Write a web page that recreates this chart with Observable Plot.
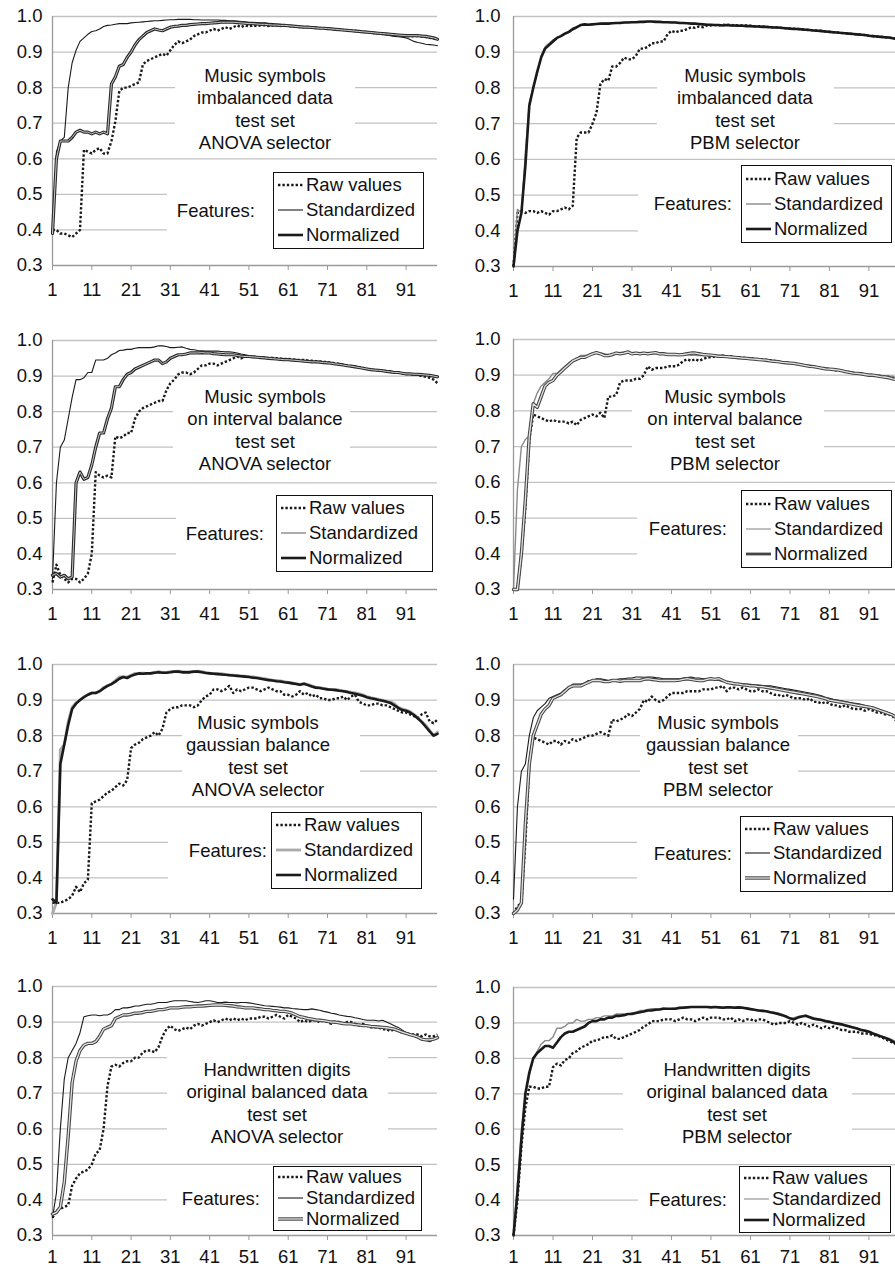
<!DOCTYPE html>
<html><head><meta charset="utf-8">
<script src="https://cdn.jsdelivr.net/npm/d3@7"></script>
<script src="https://cdn.jsdelivr.net/npm/@observablehq/plot@0.6"></script>
<style>
html,body{margin:0;padding:0;background:#fff;overflow:hidden;}
#root{position:relative;width:895px;height:1268px;overflow:hidden;font-family:"Liberation Sans",Arial,Helvetica,sans-serif;color:#111;}
.wbox{position:absolute;background:#fff;}
.note{position:absolute;text-align:center;font-size:18.5px;line-height:22.4px;white-space:nowrap;transform:translateX(-50%);}
.legend{position:absolute;background:#fff;border:1.5px solid #111;box-sizing:border-box;}
.lrow{display:flex;align-items:center;font-size:18.5px;white-space:nowrap;padding-left:4px;}
.lrow svg{margin-right:3px;flex:none;}
.feat{position:absolute;font-size:18.5px;white-space:nowrap;transform:translate(-100%,-50%);}
</style></head><body><div id="root"></div>
<script>
// ---------- data ----------
const features = d3.range(1, 100); // number of features 1..99
const xTicks = [1, 11, 21, 31, 41, 51, 61, 71, 81, 91];
const yTicks = [0.3, 0.4, 0.5, 0.6, 0.7, 0.8, 0.9, 1.0];
const legendLabels = ["Raw values", "Standardized", "Normalized"];
const featuresLabel = "Features:";
const titles = [
  ["Music symbols", "imbalanced data", "test set", "ANOVA selector"],
  ["Music symbols", "imbalanced data", "test set", "PBM selector"],
  ["Music symbols", "on interval balance", "test set", "ANOVA selector"],
  ["Music symbols", "on interval balance", "test set", "PBM selector"],
  ["Music symbols", "gaussian balance", "test set", "ANOVA selector"],
  ["Music symbols", "gaussian balance", "test set", "PBM selector"],
  ["Handwritten digits", "original balanced data", "test set", "ANOVA selector"],
  ["Handwritten digits", "original balanced data", "test set", "PBM selector"]
];

// Panel 1: music imbalanced, ANOVA
const p1Raw = [.40,.40,.39,.39,.385,.38,.39,.40,.625,.62,
 .615,.625,.63,.615,.615,.65,.705,.79,.80,.80,
 .805,.81,.815,.865,.875,.88,.885,.89,.895,.89,
 .905,.92,.93,.925,.93,.935,.945,.95,.955,.955,
 .96,.965,.96,.965,.97,.965,.97,.975,.97,.975,
 .972,.975,.973,.975,.975,.973,.975,.975,.973,.975,
 .973,.972,.972,.97,.97,.97,.968,.968,.968,.967,
 .966,.965,.964,.963,.962,.961,.96,.96,.958,.957,
 .956,.955,.953,.953,.951,.95,.95,.948,.948,.946,
 .945,.944,.945,.945,.944,.942,.94,.938,.935];
const p1Std = [.39,.62,.65,.66,.80,.87,.905,.93,.94,.95,
 .958,.96,.965,.972,.975,.976,.978,.98,.98,.98,
 .982,.983,.984,.985,.986,.987,.988,.988,.989,.99,
 .991,.991,.992,.992,.992,.992,.991,.991,.99,.99,
 .99,.99,.99,.989,.989,.988,.988,.987,.986,.985,
 .984,.984,.983,.982,.982,.981,.98,.979,.978,.977,
 .976,.975,.974,.973,.972,.972,.971,.97,.969,.968,
 .967,.966,.965,.964,.963,.962,.961,.96,.958,.957,
 .955,.954,.952,.951,.95,.948,.946,.944,.943,.942,
 .94,.935,.93,.927,.925,.922,.921,.92,.918];
const p1Norm = [.39,.60,.65,.65,.65,.66,.675,.68,.675,.675,
 .67,.675,.67,.675,.67,.81,.83,.86,.865,.885,
 .90,.92,.935,.945,.955,.96,.965,.962,.96,.965,
 .97,.972,.973,.975,.975,.977,.978,.979,.98,.98,
 .981,.982,.983,.984,.984,.984,.984,.983,.982,.981,
 .98,.98,.979,.978,.978,.977,.976,.976,.975,.975,
 .974,.973,.972,.971,.97,.97,.969,.968,.967,.967,
 .966,.965,.964,.963,.962,.961,.96,.959,.958,.957,
 .956,.955,.954,.953,.952,.951,.95,.949,.948,.947,
 .946,.946,.946,.946,.945,.944,.942,.94,.936];

// Panel 2: music imbalanced, PBM
const p2Raw = [.30,.45,.455,.45,.455,.455,.45,.455,.45,.445,
 .455,.455,.46,.465,.46,.47,.66,.675,.675,.675,
 .70,.73,.81,.825,.82,.86,.86,.87,.885,.88,
 .88,.89,.91,.91,.915,.925,.925,.93,.93,.95,
 .96,.955,.96,.96,.965,.97,.968,.972,.97,.975,
 .975,.976,.975,.977,.976,.977,.975,.976,.975,.975,
 .974,.973,.973,.972,.971,.97,.97,.969,.968,.967,
 .966,.966,.965,.964,.963,.962,.961,.96,.96,.958,
 .957,.956,.955,.954,.953,.952,.951,.95,.949,.948,
 .946,.945,.944,.943,.942,.941,.94,.938,.936];
const p2Std = [.30,.46,.45,.62,.76,.80,.84,.89,.915,.925,
 .935,.94,.945,.95,.955,.962,.968,.975,.977,.978,
 .979,.98,.98,.981,.981,.982,.982,.983,.983,.984,
 .984,.985,.985,.986,.986,.986,.986,.985,.985,.985,
 .984,.984,.983,.982,.982,.981,.98,.979,.978,.978,
 .977,.977,.976,.976,.976,.975,.975,.975,.974,.974,
 .973,.973,.972,.972,.971,.97,.97,.969,.968,.967,
 .966,.966,.965,.964,.963,.962,.961,.96,.96,.958,
 .957,.956,.955,.954,.953,.952,.951,.95,.949,.948,
 .946,.945,.944,.943,.942,.941,.94,.938,.936];
const p2Norm = [.30,.40,.45,.58,.75,.80,.845,.885,.91,.92,
 .93,.94,.945,.952,.957,.965,.97,.976,.978,.977,
 .978,.979,.98,.98,.98,.981,.982,.982,.983,.983,
 .984,.984,.985,.985,.986,.986,.985,.985,.984,.984,
 .983,.983,.982,.982,.981,.98,.98,.979,.978,.977,
 .977,.976,.976,.975,.976,.975,.975,.974,.974,.973,
 .973,.972,.972,.971,.971,.97,.969,.969,.968,.967,
 .966,.965,.965,.964,.963,.962,.961,.96,.959,.958,
 .957,.956,.955,.954,.953,.952,.951,.95,.949,.948,
 .946,.945,.944,.943,.942,.941,.939,.937,.935];

// Panel 3: music interval balance, ANOVA
const p3Raw = [.32,.37,.34,.33,.32,.33,.33,.32,.33,.345,
 .40,.63,.62,.615,.62,.615,.73,.725,.73,.74,
 .74,.78,.80,.81,.815,.82,.825,.83,.83,.86,
 .88,.89,.905,.91,.91,.905,.91,.92,.93,.93,
 .935,.935,.93,.935,.94,.945,.95,.955,.95,.955,
 .955,.955,.953,.952,.952,.95,.951,.95,.949,.948,
 .948,.947,.946,.945,.945,.944,.943,.942,.941,.94,
 .939,.937,.936,.934,.932,.93,.928,.927,.925,.923,
 .92,.918,.917,.916,.915,.914,.912,.91,.91,.908,
 .906,.905,.905,.903,.90,.898,.895,.89,.88];
const p3Std = [.33,.60,.70,.72,.78,.84,.89,.89,.895,.91,
 .91,.945,.945,.945,.95,.96,.965,.972,.973,.975,
 .975,.978,.98,.98,.98,.98,.982,.985,.985,.983,
 .98,.98,.981,.982,.978,.975,.974,.972,.971,.97,
 .97,.97,.97,.969,.968,.968,.967,.965,.962,.96,
 .958,.955,.953,.952,.951,.95,.949,.948,.947,.946,
 .945,.945,.944,.944,.943,.943,.942,.941,.94,.938,
 .936,.935,.934,.933,.932,.93,.928,.926,.924,.922,
 .92,.919,.918,.917,.916,.915,.914,.912,.91,.908,
 .906,.905,.905,.904,.903,.902,.902,.901,.90];
const p3Norm = [.34,.345,.335,.34,.33,.335,.60,.63,.61,.615,
 .65,.70,.74,.74,.78,.81,.87,.87,.89,.905,
 .91,.92,.925,.93,.935,.94,.945,.945,.935,.94,
 .95,.955,.96,.96,.962,.965,.965,.965,.966,.965,
 .965,.963,.962,.961,.96,.96,.96,.958,.956,.955,
 .955,.954,.953,.952,.951,.95,.949,.948,.947,.946,
 .946,.945,.944,.943,.942,.941,.94,.94,.939,.938,
 .937,.936,.934,.933,.931,.929,.928,.926,.924,.922,
 .92,.918,.917,.916,.915,.913,.912,.91,.91,.908,
 .906,.906,.905,.905,.904,.903,.902,.90,.898];

// Panel 4: music interval balance, PBM
const p4Raw = [.30,.30,.40,.53,.72,.79,.785,.78,.775,.77,
 .775,.77,.77,.77,.765,.77,.76,.775,.78,.785,
 .79,.785,.795,.78,.84,.84,.845,.88,.885,.885,
 .885,.89,.89,.90,.925,.915,.92,.92,.92,.925,
 .925,.925,.93,.94,.945,.94,.945,.94,.945,.95,
 .95,.952,.953,.955,.952,.953,.951,.95,.949,.948,
 .947,.946,.945,.944,.943,.942,.94,.938,.937,.935,
 .934,.932,.931,.929,.928,.926,.924,.922,.92,.918,
 .917,.915,.913,.912,.91,.909,.907,.905,.904,.903,
 .902,.90,.90,.898,.897,.896,.895,.89,.89];
const p4Std = [.30,.58,.70,.72,.73,.82,.85,.87,.88,.89,
 .905,.905,.915,.925,.935,.94,.945,.955,.955,.955,
 .96,.962,.962,.96,.955,.955,.96,.963,.965,.962,
 .96,.96,.962,.96,.96,.961,.96,.96,.96,.959,
 .959,.958,.958,.957,.957,.956,.956,.955,.955,.955,
 .955,.954,.953,.952,.951,.95,.949,.948,.947,.946,
 .945,.944,.943,.942,.941,.94,.939,.937,.936,.935,
 .934,.932,.93,.929,.928,.926,.924,.922,.921,.92,
 .918,.916,.915,.913,.911,.91,.908,.907,.905,.903,
 .902,.90,.90,.899,.898,.897,.896,.895,.895];
const p4Norm = [.30,.30,.40,.55,.73,.82,.81,.84,.87,.88,
 .885,.90,.91,.92,.93,.94,.945,.95,.95,.955,
 .96,.963,.96,.955,.955,.958,.962,.96,.962,.965,
 .96,.962,.96,.962,.96,.962,.963,.96,.96,.958,
 .958,.958,.957,.958,.96,.962,.962,.96,.958,.957,
 .956,.955,.953,.953,.952,.951,.95,.949,.948,.947,
 .946,.945,.944,.943,.942,.94,.939,.938,.936,.935,
 .934,.933,.931,.929,.927,.925,.924,.922,.92,.918,
 .917,.916,.915,.913,.91,.908,.906,.905,.904,.902,
 .90,.90,.898,.896,.895,.893,.89,.888,.892];

// Panel 5: music gaussian balance, ANOVA
const p5Raw = [.33,.33,.33,.335,.34,.35,.375,.36,.385,.395,
 .61,.615,.62,.63,.64,.645,.655,.665,.66,.675,
 .765,.775,.78,.79,.795,.80,.81,.80,.82,.865,
 .875,.88,.88,.885,.885,.885,.88,.885,.90,.91,
 .915,.93,.93,.925,.93,.94,.92,.93,.925,.93,
 .935,.935,.93,.925,.93,.935,.93,.925,.925,.915,
 .915,.91,.915,.925,.915,.92,.91,.915,.905,.905,
 .90,.90,.905,.905,.91,.90,.91,.915,.895,.89,
 .885,.885,.89,.89,.885,.885,.88,.875,.87,.865,
 .865,.86,.855,.85,.86,.865,.84,.835,.845];
const p5Std = [.30,.33,.76,.775,.84,.88,.893,.90,.91,.915,
 .92,.92,.925,.935,.94,.945,.955,.965,.965,.965,
 .97,.975,.975,.976,.975,.976,.978,.98,.978,.978,
 .98,.98,.981,.98,.979,.98,.98,.981,.98,.978,
 .976,.975,.975,.974,.972,.971,.97,.969,.968,.967,
 .966,.965,.964,.962,.96,.958,.956,.955,.954,.952,
 .95,.948,.946,.944,.946,.944,.94,.936,.935,.933,
 .931,.93,.93,.928,.926,.924,.922,.92,.918,.915,
 .91,.907,.905,.902,.90,.897,.895,.89,.88,.875,
 .872,.868,.86,.85,.84,.83,.815,.80,.81];
const p5Norm = [.34,.33,.72,.775,.83,.875,.89,.90,.908,.915,
 .92,.92,.925,.933,.94,.945,.952,.96,.965,.962,
 .968,.972,.975,.974,.975,.975,.977,.978,.977,.977,
 .978,.98,.98,.978,.978,.978,.98,.98,.978,.976,
 .975,.974,.973,.972,.971,.97,.969,.968,.967,.966,
 .965,.963,.962,.96,.958,.956,.955,.953,.952,.95,
 .949,.947,.945,.943,.946,.942,.938,.935,.934,.932,
 .93,.929,.928,.926,.925,.923,.92,.918,.915,.912,
 .908,.905,.903,.90,.898,.895,.892,.885,.878,.872,
 .87,.865,.858,.848,.838,.825,.812,.80,.805];

// Panel 6: music gaussian balance, PBM
const p6Raw = [.30,.32,.33,.50,.72,.795,.79,.785,.78,.775,
 .785,.785,.775,.785,.78,.79,.785,.79,.795,.80,
 .80,.805,.81,.805,.80,.845,.84,.845,.85,.86,
 .855,.865,.875,.90,.895,.91,.90,.895,.90,.91,
 .92,.92,.92,.92,.925,.925,.925,.925,.93,.93,
 .93,.935,.935,.94,.925,.935,.935,.93,.935,.93,
 .925,.925,.93,.925,.925,.92,.915,.915,.91,.915,
 .91,.905,.905,.905,.90,.905,.895,.895,.89,.895,
 .89,.885,.885,.88,.885,.88,.875,.875,.875,.87,
 .875,.87,.865,.865,.86,.86,.855,.84,.83];
const p6Std = [.34,.60,.70,.72,.80,.85,.87,.88,.89,.905,
 .91,.915,.92,.93,.935,.945,.945,.945,.948,.955,
 .955,.96,.96,.958,.955,.956,.958,.96,.96,.962,
 .962,.965,.965,.964,.965,.965,.963,.962,.96,.96,
 .96,.96,.96,.962,.963,.965,.962,.962,.96,.96,
 .96,.958,.955,.952,.95,.95,.948,.946,.946,.945,
 .944,.943,.942,.941,.94,.94,.938,.936,.934,.932,
 .93,.928,.926,.924,.922,.92,.918,.915,.912,.908,
 .905,.902,.90,.898,.896,.894,.892,.89,.888,.885,
 .882,.88,.876,.872,.868,.864,.86,.855,.85];
const p6Norm = [.30,.31,.33,.55,.72,.80,.83,.86,.875,.885,
 .905,.91,.915,.925,.935,.94,.94,.94,.945,.95,
 .955,.955,.955,.952,.952,.955,.955,.953,.955,.955,
 .955,.955,.955,.958,.96,.958,.957,.955,.955,.955,
 .955,.955,.956,.958,.96,.958,.956,.955,.955,.958,
 .96,.958,.96,.955,.95,.948,.946,.945,.943,.942,
 .94,.94,.938,.938,.936,.934,.932,.93,.928,.926,
 .924,.922,.92,.918,.916,.914,.912,.91,.907,.904,
 .90,.898,.896,.894,.892,.89,.888,.886,.884,.882,
 .88,.878,.874,.87,.866,.862,.858,.85,.825];

// Panel 7: handwritten digits, ANOVA
const p7Raw = [.35,.37,.375,.38,.385,.44,.46,.475,.48,.485,
 .50,.53,.54,.60,.72,.775,.78,.775,.785,.79,
 .79,.80,.80,.815,.82,.82,.815,.83,.86,.88,
 .89,.88,.875,.88,.885,.88,.89,.895,.89,.895,
 .90,.905,.90,.905,.91,.905,.91,.905,.91,.905,
 .91,.91,.91,.915,.915,.91,.915,.92,.915,.91,
 .92,.915,.91,.90,.905,.90,.905,.905,.90,.905,
 .90,.895,.90,.90,.895,.90,.90,.895,.89,.895,
 .89,.885,.885,.885,.88,.88,.875,.88,.875,.87,
 .87,.865,.865,.865,.86,.865,.86,.86,.865];
const p7Std = [.35,.42,.60,.74,.80,.82,.84,.87,.915,.918,
 .92,.92,.918,.92,.92,.925,.935,.935,.94,.94,
 .942,.945,.945,.948,.95,.95,.952,.955,.955,.955,
 .958,.96,.96,.96,.96,.958,.956,.955,.957,.96,
 .96,.958,.955,.955,.956,.955,.955,.954,.955,.955,
 .954,.952,.95,.948,.946,.945,.944,.943,.942,.94,
 .94,.938,.937,.936,.935,.935,.937,.935,.933,.93,
 .928,.925,.923,.92,.918,.916,.915,.912,.91,.907,
 .905,.905,.905,.903,.905,.90,.895,.89,.885,.878,
 .87,.865,.86,.855,.85,.848,.845,.85,.855];
const p7Norm = [.36,.365,.38,.45,.58,.73,.79,.82,.835,.84,
 .84,.845,.86,.88,.885,.89,.91,.915,.92,.92,
 .922,.925,.925,.927,.93,.93,.932,.935,.935,.937,
 .94,.94,.94,.942,.943,.943,.944,.945,.945,.946,
 .947,.948,.948,.948,.947,.946,.945,.943,.942,.94,
 .94,.94,.938,.937,.935,.935,.933,.932,.93,.93,
 .928,.925,.92,.915,.913,.91,.908,.906,.905,.904,
 .902,.90,.90,.898,.896,.895,.895,.893,.892,.89,
 .89,.888,.887,.886,.885,.884,.882,.88,.876,.872,
 .868,.865,.862,.858,.852,.85,.85,.852,.856];

// Panel 8: handwritten digits, PBM
const p8Raw = [.30,.40,.55,.66,.72,.72,.715,.715,.72,.72,
 .775,.785,.78,.795,.80,.815,.82,.83,.835,.84,
 .85,.85,.855,.86,.86,.865,.855,.855,.86,.865,
 .87,.875,.88,.89,.895,.905,.905,.905,.91,.91,
 .91,.905,.91,.915,.91,.91,.905,.91,.915,.91,
 .915,.915,.915,.91,.91,.915,.905,.91,.905,.91,
 .91,.905,.91,.91,.905,.90,.895,.90,.90,.90,
 .905,.90,.895,.90,.895,.89,.895,.89,.885,.89,
 .885,.89,.885,.88,.88,.875,.875,.875,.87,.87,
 .87,.865,.865,.86,.855,.85,.845,.84,.835];
const p8Std = [.30,.45,.60,.70,.75,.80,.82,.84,.85,.85,
 .86,.885,.885,.89,.90,.90,.91,.905,.905,.91,
 .91,.915,.915,.92,.92,.92,.925,.925,.925,.925,
 .928,.93,.935,.935,.938,.94,.94,.94,.942,.94,
 .94,.942,.945,.945,.945,.945,.945,.946,.945,.945,
 .945,.946,.945,.945,.946,.945,.945,.946,.944,.942,
 .94,.938,.937,.936,.934,.932,.93,.928,.925,.92,
 .912,.915,.918,.92,.922,.918,.915,.912,.91,.908,
 .905,.903,.90,.898,.895,.892,.888,.885,.882,.88,
 .877,.872,.868,.864,.86,.856,.852,.845,.835];
const p8Norm = [.30,.42,.57,.70,.76,.80,.815,.825,.835,.835,
 .83,.845,.86,.87,.875,.875,.88,.885,.89,.90,
 .905,.905,.91,.91,.915,.915,.92,.92,.922,.925,
 .925,.928,.93,.932,.935,.935,.937,.938,.94,.94,
 .94,.94,.942,.943,.944,.945,.945,.945,.945,.945,
 .944,.945,.944,.943,.944,.944,.943,.944,.943,.941,
 .939,.937,.935,.934,.933,.93,.928,.925,.922,.918,
 .913,.91,.915,.918,.92,.916,.912,.91,.908,.905,
 .903,.90,.898,.896,.893,.89,.887,.884,.88,.878,
 .875,.87,.866,.862,.858,.854,.848,.84,.83];

// ---------- styles ----------
const ST = {
  dot:        {type: "line", color: "#1a1a1a", w: 2.4, dash: "2.4 2"},
  thinBlack:  {type: "line", color: "#1a1a1a", w: 1.1},
  thinGray:   {type: "line", color: "#8a8a8a", w: 1.4},
  lightGray:  {type: "line", color: "#b4b4b4", w: 1.7},
  lightThick: {type: "line", color: "#aaaaaa", w: 2.8},
  thickBlack: {type: "line", color: "#1a1a1a", w: 2.6},
  thickDark:  {type: "line", color: "#444444", w: 2.8},
  dbl:        {type: "double", outer: "#2a2a2a", w: 3.2, inner: "#c8c8c8", iw: 1},
  dblGray:    {type: "double", outer: "#444444", w: 3.4, inner: "#e2e2e2", iw: 1.3}
};

// ---------- layout (page pixels) ----------
const layout = [
 {left:0,   fl:52,  fr:437, ft:16,  fb:265,  tp:10, xp:12, tx:265, ty:76,   tb:[175,58,355,152],   lw:[167,170,437,251],   lb:[273,172,424,249],   fx:255},
 {left:445, fl:513, fr:900, ft:16,  fb:266,  tp:13, xp:12, tx:745, ty:76,   tb:[657,60,834,150],   lw:[638,163,900,252],   lb:[741,165,892,243],   fx:732},
 {left:0,   fl:52,  fr:437, ft:340, fb:589,  tp:10, xp:12, tx:265, ty:397,  tb:[173,385,350,472],  lw:[176,492,437,575],   lb:[276,495,433,572],   fx:264},
 {left:445, fl:513, fr:900, ft:339, fb:589,  tp:13, xp:12, tx:725, ty:397,  tb:[632,385,824,472],  lw:[637,488,900,572],   lb:[741,490,892,568],   fx:727},
 {left:0,   fl:52,  fr:437, ft:664, fb:913,  tp:10, xp:12, tx:258, ty:723,  tb:[182,708,360,797],  lw:[168,810,437,892],   lb:[271,812,422,889],   fx:267},
 {left:445, fl:513, fr:900, ft:664, fb:913,  tp:13, xp:12, tx:718, ty:723,  tb:[640,711,798,797],  lw:[637,814,900,895],   lb:[740,816,893,892],   fx:732},
 {left:0,   fl:52,  fr:437, ft:986, fb:1235, tp:10, xp:9,  tx:277, ty:1070, tb:[167,1045,388,1150],lw:[167,1167,437,1233], lb:[273,1166,422,1231], fx:260},
 {left:445, fl:513, fr:900, ft:987, fb:1235, tp:13, xp:9,  tx:737, ty:1070, tb:[623,1045,852,1150],lw:[638,1167,900,1233], lb:[739,1166,891,1233], fx:727}
];

const panels = [
 {raw:p1Raw, std:p1Std, norm:p1Norm, cs:ST.thinBlack, cn:ST.dbl,       ls:ST.thinBlack,  ln:ST.thickBlack},
 {raw:p2Raw, std:p2Std, norm:p2Norm, cs:ST.thinGray,  cn:ST.thickBlack, ls:ST.thinGray,   ln:ST.thickBlack},
 {raw:p3Raw, std:p3Std, norm:p3Norm, cs:ST.thinBlack, cn:ST.dbl,        ls:ST.thinGray,   ln:ST.thickBlack},
 {raw:p4Raw, std:p4Std, norm:p4Norm, cs:ST.thinGray,  cn:ST.dblGray,    ls:ST.lightGray,  ln:ST.thickDark},
 {raw:p5Raw, std:p5Std, norm:p5Norm, cs:ST.lightThick,cn:ST.thickBlack, ls:ST.lightThick, ln:ST.thickBlack},
 {raw:p6Raw, std:p6Std, norm:p6Norm, cs:ST.thinBlack, cn:ST.dblGray,    ls:ST.thinBlack,  ln:ST.dblGray},
 {raw:p7Raw, std:p7Std, norm:p7Norm, cs:ST.thinBlack, cn:ST.dblGray,    ls:ST.thinBlack,  ln:ST.dblGray},
 {raw:p8Raw, std:p8Std, norm:p8Norm, cs:ST.thinGray,  cn:ST.thickBlack, ls:ST.lightGray,  ln:ST.thickBlack}
];

// ---------- drawing ----------
const root = document.getElementById("root");
const yFmt = d3.format(".1f");
const FONT = "'Liberation Sans', Arial, Helvetica, sans-serif";

function place(el, left, top) {
  el.style.position = "absolute";
  el.style.left = left + "px";
  el.style.top = top + "px";
  root.appendChild(el);
  return el;
}
function box(cls, r) {
  const d = document.createElement("div");
  d.className = cls;
  d.style.left = r[0] + "px"; d.style.top = r[1] + "px";
  d.style.width = (r[2] - r[0]) + "px"; d.style.height = (r[3] - r[1]) + "px";
  root.appendChild(d);
  return d;
}
function lineMarks(rows, key, st) {
  if (st.type === "double") {
    return [
      Plot.line(rows, {x: "x", y: key, stroke: st.outer, strokeWidth: st.w}),
      Plot.line(rows, {x: "x", y: key, stroke: st.inner, strokeWidth: st.iw})
    ];
  }
  return [Plot.line(rows, {x: "x", y: key, stroke: st.color, strokeWidth: st.w,
    strokeDasharray: st.dash, strokeLinecap: st.dash ? "butt" : "round"})];
}
function sample(st) {
  const ns = "http://www.w3.org/2000/svg";
  const svg = document.createElementNS(ns, "svg");
  svg.setAttribute("width", 25); svg.setAttribute("height", 12);
  const add = (stroke, w, dash) => {
    const l = document.createElementNS(ns, "line");
    l.setAttribute("x1", 0); l.setAttribute("x2", 25);
    l.setAttribute("y1", 6); l.setAttribute("y2", 6);
    l.setAttribute("stroke", stroke); l.setAttribute("stroke-width", w);
    if (dash) l.setAttribute("stroke-dasharray", dash);
    svg.appendChild(l);
  };
  if (st.type === "double") { add(st.outer, st.w); add(st.inner, st.iw); }
  else add(st.color, st.w, st.dash);
  return svg;
}

panels.forEach((p, i) => {
  const L = layout[i];
  const mt = 14, mb = 40, mr = 8;
  const width = L.fr - L.left + mr;
  const height = mt + (L.fb - L.ft) + mb;
  const base = {
    width, height, marginLeft: L.fl - L.left, marginRight: mr, marginTop: mt, marginBottom: mb,
    style: {fontFamily: FONT, fontSize: "18.5px", color: "#111", background: "transparent", overflow: "visible"}
  };
  const xDom = [features[0], features[features.length - 1]];
  const yDom = [yTicks[0], yTicks[yTicks.length - 1]];

  // layer 1: gridlines
  const grid = Plot.plot({...base,
    x: {domain: xDom, axis: null}, y: {domain: yDom, axis: null},
    marks: [Plot.gridY(yTicks.slice(1), {stroke: "#c2c2c2", strokeOpacity: 1, strokeWidth: 1.3})]
  });
  place(grid, L.left, L.ft - mt);

  // white boxes behind the note and legend (break the gridlines)
  box("wbox", L.tb);
  box("wbox", L.lw);

  // layer 2: axes and series
  const rows = features.map((x, j) => ({x, raw: p.raw[j], std: p.std[j], norm: p.norm[j]}));
  const chart = Plot.plot({...base,
    x: {domain: xDom, label: null}, y: {domain: yDom, label: null},
    marks: [
      Plot.ruleX([xDom[0]], {stroke: "#9a9a9a", strokeWidth: 1.3}),
      Plot.ruleY([yDom[0]], {stroke: "#9a9a9a", strokeWidth: 1.3}),
      Plot.axisY(yTicks, {tickSize: 0, tickPadding: L.tp, tickFormat: yFmt, fill: "#111", label: null}),
      Plot.axisX(xTicks, {tickSize: 5, tickPadding: L.xp, stroke: "#9a9a9a", fill: "#111", tickFormat: d => String(d), label: null}),
      ...lineMarks(rows, "raw", ST.dot),
      ...lineMarks(rows, "std", p.cs),
      ...lineMarks(rows, "norm", p.cn)
    ]
  });
  place(chart, L.left, L.ft - mt);

  // note text
  const note = document.createElement("div");
  note.className = "note";
  note.innerHTML = titles[i].join("<br>");
  place(note, L.tx, L.ty - 11.2);

  // legend
  const lg = box("legend", L.lb);
  const rh = (L.lb[3] - L.lb[1] - 3) / 3;
  const styles = [ST.dot, p.ls, p.ln];
  legendLabels.forEach((lab, k) => {
    const r = document.createElement("div");
    r.className = "lrow";
    r.style.height = rh + "px";
    r.appendChild(sample(styles[k]));
    const t = document.createElement("span");
    t.textContent = lab;
    r.appendChild(t);
    lg.appendChild(r);
  });
  const f = document.createElement("div");
  f.className = "feat";
  f.textContent = featuresLabel;
  place(f, L.fx, (L.lb[1] + L.lb[3]) / 2);
});
</script></body></html>
